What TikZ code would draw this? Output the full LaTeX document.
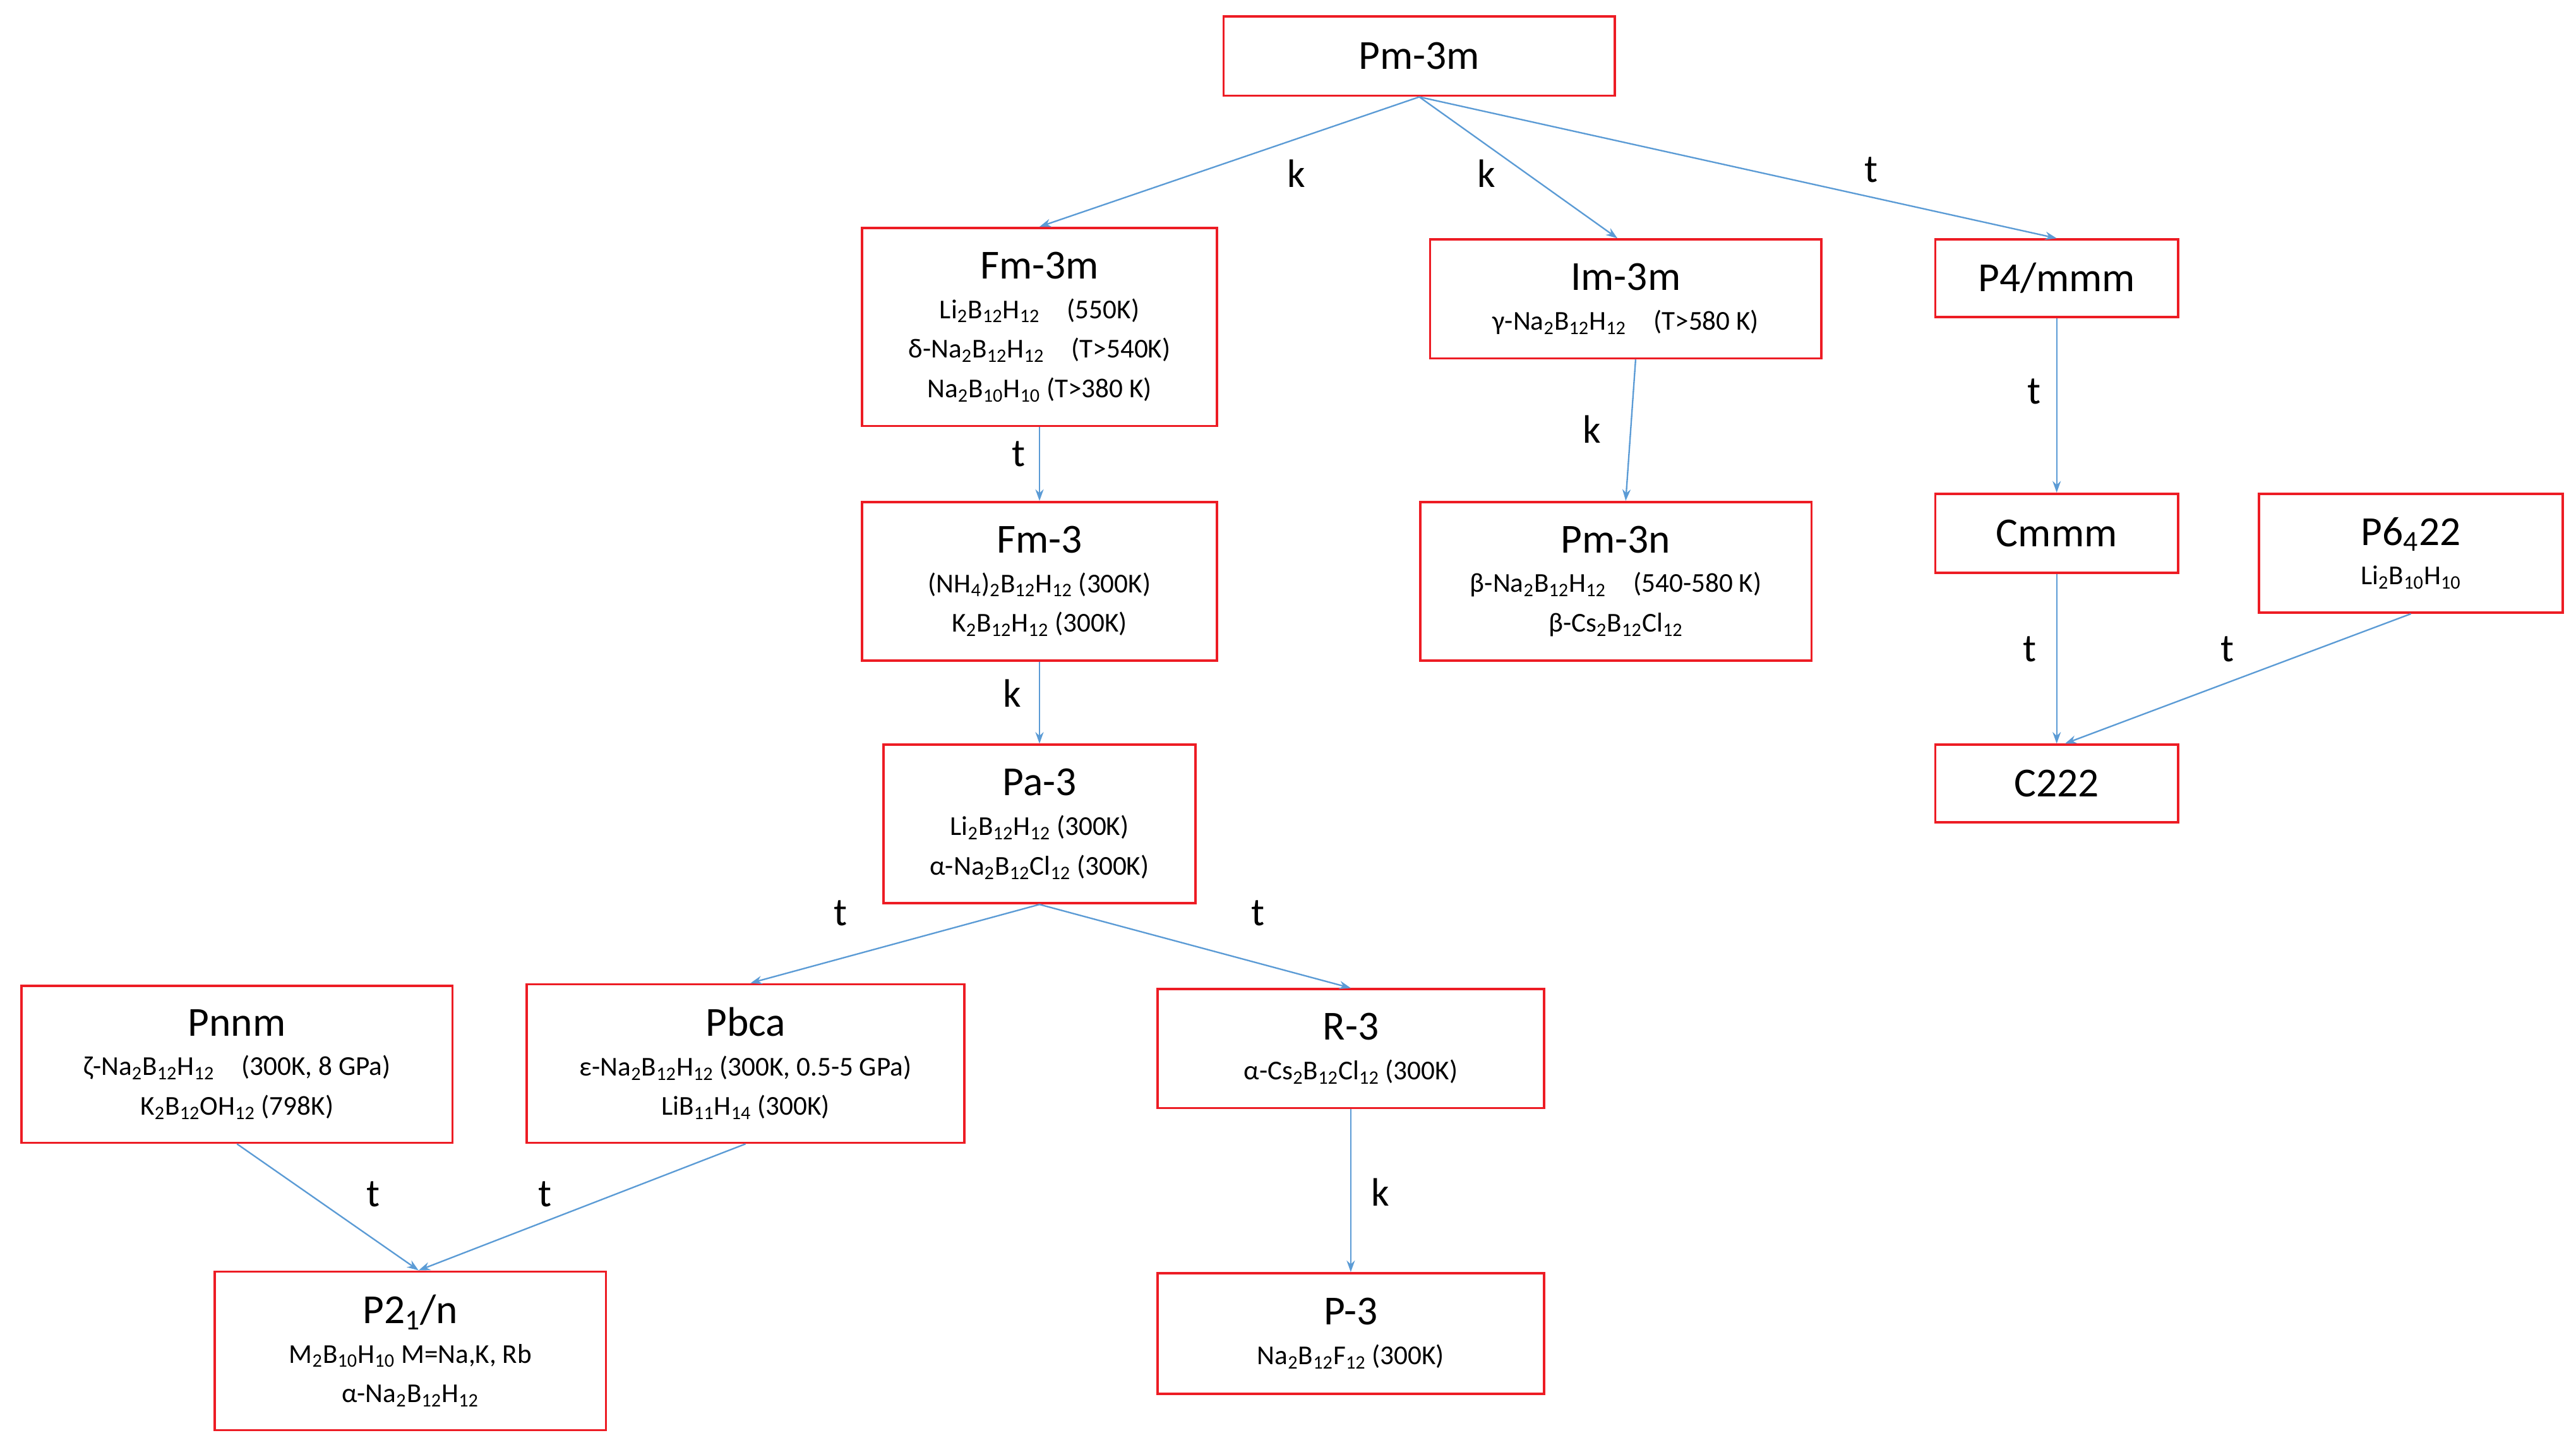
\documentclass[tikz,border=0pt]{standalone}
\usepackage{fontspec}
\setmainfont{Carlito}
\usetikzlibrary{arrows.meta}
\definecolor{boxred}{RGB}{237,28,36}
\definecolor{linkblue}{RGB}{91,155,213}
\newcommand{\ssub}[1]{\textsubscript{#1}}
\newcommand{\ttl}[1]{{\fontsize{25}{32}\selectfont #1}\\}
\begin{document}
\begin{tikzpicture}[x=1pt,y=-1pt,
    box/.style={draw=boxred, line width=1.4pt, align=center, inner sep=0pt,
      font=\fontsize{16.5}{24}\selectfont},
    link/.style={draw=linkblue, line width=0.9pt, -{Stealth[length=7pt,width=5pt]}},
    lab/.style={font=\fontsize{24}{24}\selectfont}]
  \useasboundingbox (0,0) rectangle (1560,875);
  % boxes
  \node[box, minimum width=237, minimum height=48] (pm3m) at (859.5,34) {\fontsize{25}{30}\selectfont Pm-3m};
  \node[box, minimum width=215, minimum height=120] (fm3m) at (629.5,198)
    {\ttl{Fm-3m}Li\ssub{2}B\ssub{12}H\ssub{12}\quad(550K)\\ δ-Na\ssub{2}B\ssub{12}H\ssub{12}\quad(T>540K)\\ Na\ssub{2}B\ssub{10}H\ssub{10} (T>380 K)};
  \node[box, minimum width=237, minimum height=72] (im3m) at (984.5,181)
    {\ttl{Im-3m}γ-Na\ssub{2}B\ssub{12}H\ssub{12}\quad(T>580 K)};
  \node[box, minimum width=147, minimum height=47] (p4) at (1245.5,168.5) {\fontsize{25}{30}\selectfont P4/mmm};
  \node[box, minimum width=215, minimum height=96] (fm3) at (629.5,352)
    {\ttl{Fm-3}(NH\ssub{4})\ssub{2}B\ssub{12}H\ssub{12} (300K)\\ K\ssub{2}B\ssub{12}H\ssub{12} (300K)};
  \node[box, minimum width=237, minimum height=96] (pm3n) at (978.5,352)
    {\ttl{Pm-3n}β-Na\ssub{2}B\ssub{12}H\ssub{12}\quad(540-580 K)\\ β-Cs\ssub{2}B\ssub{12}Cl\ssub{12}};
  \node[box, minimum width=147, minimum height=48] (cmmm) at (1245.5,323) {\fontsize{25}{30}\selectfont Cmmm};
  \node[box, minimum width=184, minimum height=72] (p6) at (1460,335)
    {\ttl{P6\ssub{4}22}Li\ssub{2}B\ssub{10}H\ssub{10}};
  \node[box, minimum width=147, minimum height=47] (c222) at (1245.5,474.5) {\fontsize{25}{30}\selectfont C222};
  \node[box, minimum width=189, minimum height=96] (pa3) at (629.5,499)
    {\ttl{Pa-3}Li\ssub{2}B\ssub{12}H\ssub{12} (300K)\\ α-Na\ssub{2}B\ssub{12}Cl\ssub{12} (300K)};
  \node[box, minimum width=261, minimum height=95] (pnnm) at (143.5,644.5)
    {\ttl{Pnnm}ζ-Na\ssub{2}B\ssub{12}H\ssub{12}\quad(300K, 8 GPa)\\ K\ssub{2}B\ssub{12}OH\ssub{12} (798K)};
  \node[box, minimum width=265, minimum height=96] (pbca) at (451.5,644)
    {\ttl{Pbca}ε-Na\ssub{2}B\ssub{12}H\ssub{12} (300K, 0.5-5 GPa)\\ LiB\ssub{11}H\ssub{14} (300K)};
  \node[box, minimum width=234, minimum height=72] (r3) at (818,635)
    {\ttl{R-3}α-Cs\ssub{2}B\ssub{12}Cl\ssub{12} (300K)};
  \node[box, minimum width=237, minimum height=96] (p21n) at (248.5,818)
    {\ttl{P2\ssub{1}/n}M\ssub{2}B\ssub{10}H\ssub{10} M=Na,K, Rb\\ α-Na\ssub{2}B\ssub{12}H\ssub{12}};
  \node[box, minimum width=234, minimum height=73] (p3) at (818,807.5)
    {\ttl{P-3}Na\ssub{2}B\ssub{12}F\ssub{12} (300K)};
  % connectors
  \draw[link] (pm3m.south) -- (fm3m.north);
  \draw[link] (pm3m.south) -- ([xshift=-5pt]im3m.north);
  \draw[link] (pm3m.south) -- (p4.north);
  \draw[link] (fm3m.south) -- (fm3.north);
  \draw[link] (fm3.south) -- (pa3.north);
  \draw[link] ([xshift=6pt]im3m.south) -- ([xshift=6pt]pm3n.north);
  \draw[link] (p4.south) -- (cmmm.north);
  \draw[link] (cmmm.south) -- (c222.north);
  \draw[link] (p6.south) -- ([xshift=5pt]c222.north);
  \draw[link] (pa3.south) -- ([xshift=3pt]pbca.north);
  \draw[link] (pa3.south) -- (r3.north);
  \draw[link] (pnnm.south) -- ([xshift=5pt]p21n.north);
  \draw[link] (pbca.south) -- ([xshift=5pt]p21n.north);
  \draw[link] (r3.south) -- (p3.north);
  % labels
  \node[lab] (l1) at (785,105) {k};
  \node[lab] (l2) at (900,105) {k};
  \node[lab] (l3) at (1133,103) {t};
  \node[lab] (l4) at (617,275) {t};
  \node[lab] (l5) at (964,260) {k};
  \node[lab] (l6) at (1232,237) {t};
  \node[lab] (l7) at (613,420) {k};
  \node[lab] (l8) at (1229,393) {t};
  \node[lab] (l9) at (1349,393) {t};
  \node[lab] (l10) at (509,553) {t};
  \node[lab] (l11) at (762,553) {t};
  \node[lab] (l12) at (226,723) {t};
  \node[lab] (l13) at (330,723) {t};
  \node[lab] (l14) at (836,722) {k};
\end{tikzpicture}
\end{document}
